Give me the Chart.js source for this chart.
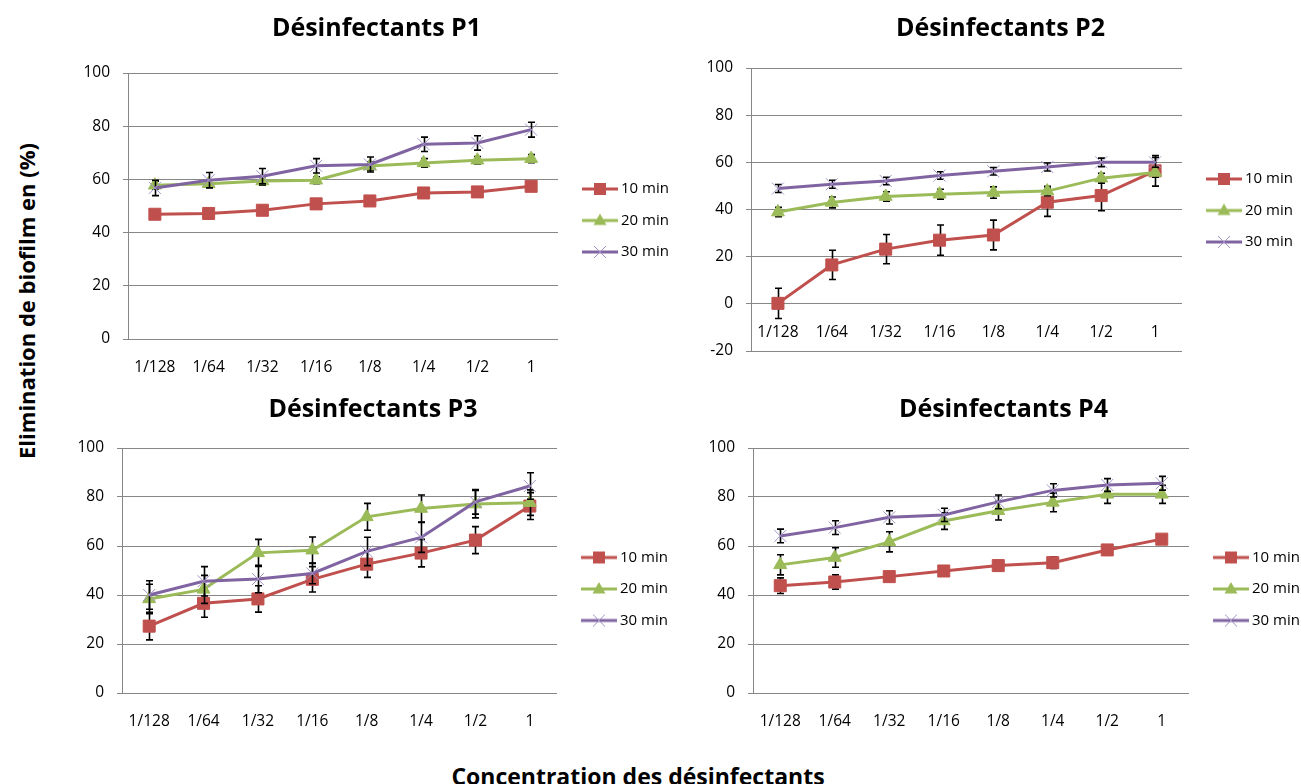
<!DOCTYPE html>
<html lang="fr">
<head>
<meta charset="utf-8">
<title>Elimination de biofilm – désinfectants P1 à P4</title>
<script src="https://cdn.jsdelivr.net/npm/chart.js@4.4.1/dist/chart.umd.min.js"></script>
<style>
  html, body { margin: 0; padding: 0; background: #ffffff; overflow: hidden; }
  body { width: 1301px; height: 784px; position: relative; font-family: 'Open Sans', sans-serif; }
  canvas { position: absolute; }
  .axis-title { position: absolute; font-weight: 700; color: #000; white-space: nowrap; line-height: 1; }
  #yTitle { left: 26px; top: 301px; font-size: 22px; transform: translate(-50%, -50%) rotate(-90deg); }
  #xTitle { left: 638px; top: 776px; font-size: 23px; transform: translate(-50%, -50%); }
</style>
</head>
<body>
<canvas id="p1" width="595" height="379" style="left:79px;top:0px;width:595px;height:379px"></canvas>
<canvas id="p2" width="595" height="379" style="left:703px;top:0px;width:595px;height:379px"></canvas>
<canvas id="p3" width="600" height="353" style="left:73px;top:380px;width:600px;height:353px"></canvas>
<canvas id="p4" width="603" height="353" style="left:702px;top:380px;width:603px;height:353px"></canvas>
<div id="yTitle" class="axis-title">Elimination de biofilm en (%)</div>
<div id="xTitle" class="axis-title">Concentration des désinfectants</div>
<script>
// Dilutions tested (x axis tick labels) and exposure times (series)
const concentrations = ['1/128', '1/64', '1/32', '1/16', '1/8', '1/4', '1/2', '1'];
const seriesLabels = ['10 min', '20 min', '30 min'];
const panelTitles = ['Désinfectants P1', 'Désinfectants P2', 'Désinfectants P3', 'Désinfectants P4'];

// Désinfectant P1 – biofilm elimination (%) and standard deviations
const p1Min10 = [46.9, 47.2, 48.4, 50.8, 51.9, 54.9, 55.3, 57.4];
const p1Min20 = [57.8, 58.4, 59.4, 59.7, 65.0, 66.2, 67.2, 67.8];
const p1Min30 = [56.8, 59.7, 61.2, 65.1, 65.6, 73.2, 73.7, 78.7];
const p1Sd10 = [1.0, 1.2, 1.1, 1.3, 1.2, 1.4, 1.3, 1.5];
const p1Sd20 = [1.5, 1.4, 1.6, 1.3, 1.6, 1.6, 1.4, 1.5];
const p1Sd30 = [2.9, 2.9, 2.9, 2.7, 2.8, 2.7, 2.7, 2.8];

// Désinfectant P2
const p2Min10 = [0.2, 16.5, 23.2, 27.0, 29.2, 43.1, 45.9, 56.4];
const p2Min20 = [38.9, 43.0, 45.5, 46.5, 47.2, 47.8, 53.3, 55.7];
const p2Min30 = [48.9, 50.7, 52.1, 54.4, 56.2, 58.0, 60.0, 60.0];
const p2Sd10 = [6.4, 6.2, 6.2, 6.4, 6.3, 6.0, 6.4, 6.5];
const p2Sd20 = [2.0, 2.3, 2.0, 2.1, 2.4, 2.0, 2.1, 2.0];
const p2Sd30 = [1.7, 1.7, 1.6, 1.6, 1.6, 1.7, 1.8, 2.1];

// Désinfectant P3
const p3Min10 = [27.3, 36.6, 38.4, 46.4, 52.6, 57.1, 62.4, 76.3];
const p3Min20 = [38.4, 42.3, 57.2, 58.3, 71.9, 75.3, 77.1, 77.7];
const p3Min30 = [40.0, 45.6, 46.5, 48.8, 57.8, 63.5, 78.0, 84.5];
const p3Sd10 = [5.6, 5.7, 5.4, 5.2, 5.4, 5.6, 5.5, 5.5];
const p3Sd20 = [6.0, 5.7, 5.5, 5.4, 5.5, 5.5, 5.6, 5.2];
const p3Sd30 = [5.8, 6.0, 5.6, 4.2, 5.8, 6.1, 5.0, 5.4];

// Désinfectant P4
const p4Min10 = [43.8, 45.3, 47.5, 49.8, 52.0, 53.2, 58.4, 62.8];
const p4Min20 = [52.3, 55.3, 61.7, 70.2, 74.4, 77.8, 81.1, 81.1];
const p4Min30 = [64.1, 67.5, 71.7, 72.7, 78.0, 82.7, 84.9, 85.6];
const p4Sd10 = [3.2, 2.9, 1.5, 1.5, 2.0, 2.4, 1.5, 1.5];
const p4Sd20 = [4.1, 4.0, 4.1, 3.4, 3.8, 3.8, 3.7, 3.7];
const p4Sd30 = [2.8, 2.8, 2.7, 2.7, 2.8, 2.7, 2.6, 2.8];

// Value axis ranges and step
const p1Range = [0, 100];
const p2Range = [-20, 100];
const p3Range = [0, 100];
const p4Range = [0, 100];
const yStep = 20;

// ---- styling ----
const FONT = "'Open Sans', sans-serif";
Chart.defaults.font.family = FONT;
Chart.defaults.color = '#000';
const gridColor = '#878787';
const tickFont = { family: FONT, size: 15.5 };

const seriesStyles = [
  { color: '#C0504D', marker: 'rect',     radius: 8.5, fill: '#C0504D', stroke: '#C0504D', strokeWidth: 1 },
  { color: '#9BBB59', marker: 'triangle', radius: 7.5, fill: '#9BBB59', stroke: '#9BBB59', strokeWidth: 1 },
  { color: '#8064A2', marker: 'crossRot', radius: 8.5, fill: '#8064A2', stroke: '#A393C8', strokeWidth: 1 }
];

// Per-panel frame: y-axis width, title paddings, bottom padding, legend vertical offset
const panelFrames = [
  { yAxisWidth: 49, titleTop: 14, titleBottom: 29, bottomPad: 40, legendShift: 29 },
  { yAxisWidth: 48, titleTop: 14, titleBottom: 24, bottomPad: 28, legendShift: 2 },
  { yAxisWidth: 49, titleTop: 15, titleBottom: 23, bottomPad: 40, legendShift: 37 },
  { yAxisWidth: 51, titleTop: 15, titleBottom: 23, bottomPad: 40, legendShift: 37 }
];

const panels = [
  { id: 'p1', values: [p1Min10, p1Min20, p1Min30], errors: [p1Sd10, p1Sd20, p1Sd30], range: p1Range },
  { id: 'p2', values: [p2Min10, p2Min20, p2Min30], errors: [p2Sd10, p2Sd20, p2Sd30], range: p2Range },
  { id: 'p3', values: [p3Min10, p3Min20, p3Min30], errors: [p3Sd10, p3Sd20, p3Sd30], range: p3Range },
  { id: 'p4', values: [p4Min10, p4Min20, p4Min30], errors: [p4Sd10, p4Sd20, p4Sd30], range: p4Range }
];

// Vertical error bars (± standard deviation), drawn just under each series
const errorBarPlugin = {
  id: 'errorBars',
  beforeDatasetDraw(chart, args, opts) {
    const ds = chart.data.datasets[args.index];
    if (!ds.errors) return;
    const yScale = chart.scales.y;
    const ctx = chart.ctx;
    const half = opts.capWidth / 2;
    ctx.save();
    ctx.strokeStyle = opts.color;
    ctx.lineWidth = opts.lineWidth;
    ctx.lineCap = 'butt';
    args.meta.data.forEach((pt, i) => {
      const v = ds.data[i];
      const e = ds.errors[i];
      const x = Math.round(pt.x) + 0.5;
      const yTop = yScale.getPixelForValue(v + e);
      const yBot = yScale.getPixelForValue(v - e);
      ctx.beginPath();
      ctx.moveTo(x, yTop); ctx.lineTo(x, yBot);
      ctx.moveTo(x - half, yTop); ctx.lineTo(x + half, yTop);
      ctx.moveTo(x - half, yBot); ctx.lineTo(x + half, yBot);
      ctx.stroke();
    });
    ctx.restore();
  }
};

// Legend glyph: a short line segment with the series marker on it
function legendGlyph(style) {
  const c = document.createElement('canvas');
  c.width = 56; c.height = 16;
  const g = c.getContext('2d');
  const mx = 34, my = 8;
  g.strokeStyle = style.color;
  g.lineWidth = 3;
  g.beginPath(); g.moveTo(16, my); g.lineTo(52, my); g.stroke();
  if (style.marker === 'rect') {
    g.fillStyle = style.fill;
    g.fillRect(mx - 6, my - 6, 12, 12);
  } else if (style.marker === 'triangle') {
    g.fillStyle = style.fill;
    g.beginPath();
    g.moveTo(mx, my - 7); g.lineTo(mx + 6.5, my + 4.5); g.lineTo(mx - 6.5, my + 4.5);
    g.closePath(); g.fill();
  } else {
    g.strokeStyle = style.stroke;
    g.lineWidth = 1;
    g.beginPath();
    g.moveTo(mx - 6, my - 6); g.lineTo(mx + 6, my + 6);
    g.moveTo(mx + 6, my - 6); g.lineTo(mx - 6, my + 6);
    g.stroke();
  }
  return c;
}
const legendGlyphs = seriesStyles.map(legendGlyph);

function buildChart(panel, idx) {
  const frame = panelFrames[idx];
  return new Chart(document.getElementById(panel.id), {
    type: 'line',
    data: {
      labels: concentrations,
      datasets: seriesLabels.map((label, k) => ({
        label,
        data: panel.values[k],
        errors: panel.errors[k],
        borderColor: seriesStyles[k].color,
        backgroundColor: seriesStyles[k].color,
        borderWidth: 3,
        tension: 0,
        fill: false,
        pointStyle: seriesStyles[k].marker,
        pointRadius: seriesStyles[k].radius,
        pointHoverRadius: seriesStyles[k].radius,
        pointBackgroundColor: seriesStyles[k].fill,
        pointBorderColor: seriesStyles[k].stroke,
        pointBorderWidth: seriesStyles[k].strokeWidth,
        order: seriesLabels.length - k
      }))
    },
    options: {
      responsive: false,
      devicePixelRatio: 1,
      animation: false,
      events: [],
      layout: { padding: { left: 0, right: 0, top: 0, bottom: frame.bottomPad } },
      scales: {
        x: {
          type: 'category',
          position: { y: 0 },
          offset: true,
          grid: { display: false, drawTicks: false },
          border: { display: false },
          ticks: { autoSkip: false, maxRotation: 0, minRotation: 0, padding: 19, font: tickFont, color: '#000' }
        },
        y: {
          min: panel.range[0],
          max: panel.range[1],
          position: 'left',
          ticks: { stepSize: yStep, padding: 13, font: tickFont, color: '#000' },
          grid: { color: gridColor, lineWidth: 1, drawTicks: true, tickLength: 5, tickColor: gridColor },
          border: { display: true, color: gridColor, width: 1 },
          afterFit(scale) { scale.width = frame.yAxisWidth; }
        }
      },
      plugins: {
        title: {
          display: true,
          text: panelTitles[idx],
          fullSize: true,
          color: '#000',
          font: { family: FONT, size: 25, weight: 'bold', lineHeight: 1.2 },
          padding: { top: frame.titleTop, bottom: frame.titleBottom }
        },
        legend: {
          display: true,
          position: 'right',
          align: 'center',
          fullSize: false,
          maxWidth: 116,
          title: {
            display: frame.legendShift > 1,
            text: '',
            font: { size: 1, lineHeight: 1 },
            padding: { top: Math.max(frame.legendShift - 1, 0), bottom: 0 }
          },
          labels: {
            usePointStyle: true,
            pointStyleWidth: 39,
            padding: 16.5,
            color: '#000',
            font: { family: FONT, size: 15 },
            sort: (a, b) => a.datasetIndex - b.datasetIndex,
            generateLabels(chart) {
              const items = Chart.defaults.plugins.legend.labels.generateLabels(chart);
              items.forEach(it => { it.pointStyle = legendGlyphs[it.datasetIndex]; it.rotation = 0; });
              return items;
            }
          }
        },
        tooltip: { enabled: false },
        errorBars: { color: '#000', lineWidth: 1.6, capWidth: 7 }
      }
    },
    plugins: [errorBarPlugin]
  });
}

panels.forEach(buildChart);
</script>
</body>
</html>
